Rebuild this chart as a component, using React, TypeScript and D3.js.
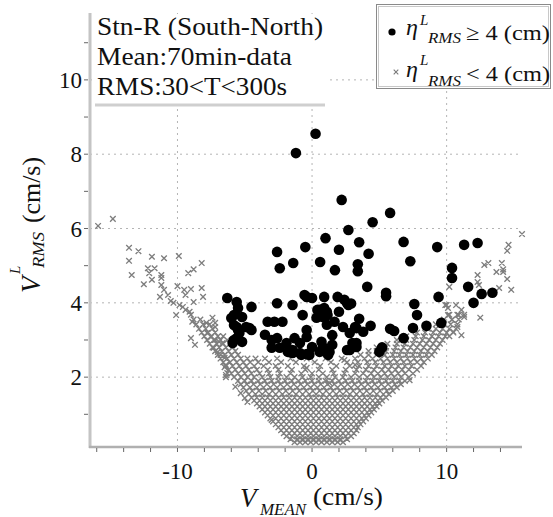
import * as d3 from 'd3';

// axis setup
const X_DOMAIN: [number, number] = [-16.5, 15.6];
const Y_DOMAIN: [number, number] = [0.12, 11.8];
const xMajor = [-10, 0, 10];
const xMinor = [-16, -14, -12, -10, -8, -6, -4, -2, 0, 2, 4, 6, 8, 10, 12, 14];
const yMajor = [2, 4, 6, 8, 10];
const yMinor = [1, 2, 3, 4, 5, 6, 7, 8, 9, 10, 11];

const titleLines = ['Stn-R (South-North)', 'Mean:70min-data', 'RMS:30<T<300s'];
const titleWidths = [226, 195, 190];

// eta_RMS >= 4 cm (black dots)
const bigDots: [number, number][] = [
  [-1.2, 8.03], [0.26, 8.55], [2.2, 6.77], [2.7, 5.96], [1.0, 5.74], [-2.6, 5.37], [-0.5, 5.5],
  [2.0, 5.43], [3.5, 5.63], [-1.4, 5.07], [-2.4, 4.93], [0.6, 5.1], [1.7, 4.88], [3.4, 5.04],
  [3.4, 4.85], [4.5, 6.17], [5.8, 6.42], [4.2, 5.32], [6.8, 5.64], [7.3, 5.12], [9.3, 5.5],
  [11.3, 5.56], [12.3, 5.61], [10.4, 4.94], [10.4, 4.67], [4.1, 4.43], [5.5, 4.27], [5.5, 4.18],
  [7.6, 3.97], [9.4, 4.16], [11.6, 4.43], [12.6, 4.24], [13.4, 4.27], [12.0, 4.0], [2.9, 3.98],
  [-0.4, 4.16], [0.0, 4.13], [0.9, 4.16], [1.9, 4.16], [2.4, 4.08], [2.7, 3.94], [-0.7, 3.67],
  [0.56, 3.81], [1.1, 3.76], [0.8, 3.62], [1.1, 3.41], [2.3, 3.35], [3.5, 3.57], [3.3, 3.32],
  [3.8, 3.22], [4.35, 3.38], [5.8, 3.3], [6.1, 3.24], [7.8, 3.67], [7.5, 3.32], [8.5, 3.38],
  [9.6, 3.46], [6.8, 3.05], [1.5, 3.13], [-0.4, 3.27], [-0.4, 3.08], [-0.9, 2.92], [0.0, 2.81],
  [-0.2, 2.6], [0.7, 2.95], [0.8, 2.81], [1.3, 2.68], [1.2, 2.6], [2.6, 2.73], [3.2, 2.87],
  [3.3, 2.81], [5.2, 2.8], [5.0, 2.68], [-0.9, 2.65], [-0.4, 2.62],
  [-6.3, 4.13], [-5.6, 4.02], [-5.5, 3.86], [-5.8, 3.67], [-4.5, 3.89], [-5.2, 3.62], [-5.8, 3.4],
  [-5.5, 3.27], [-5.6, 3.05], [-5.2, 2.95], [-4.65, 3.32], [-5.9, 2.92], [-2.6, 3.99], [-1.45, 3.94],
  [-0.56, 4.21], [-3.3, 3.49], [-2.8, 3.49], [-2.2, 3.49], [-3.5, 3.14], [-3.0, 3.0], [-2.6, 3.05],
  [-3.0, 2.79], [-2.4, 2.79], [-1.9, 2.92], [-1.45, 2.73], [-1.8, 2.68], [-1.3, 3.05], [0.4, 3.81],
  [0.9, 3.86], [1.15, 3.67], [0.33, 3.6], [1.67, 3.49], [2.0, 3.76], [2.6, 3.99], [2.8, 3.19],
  [3.2, 3.35], [0.56, 2.68], [1.15, 2.65], [1.5, 2.87], [3.3, 2.92], [-6.0, 3.59], [-5.6, 3.35],
  [-5.4, 3.19], [-5.8, 3.0], [-4.9, 3.35], [-4.5, 3.27], [-1.45, 2.65], [-0.8, 2.6], [3.0, 2.92],
  [2.8, 2.73],
];

// eta_RMS < 4 cm, dense core (one row per V_RMS level)
const grayRows: [number, number[]][] = [
  [0.25, [-1.3, -0.9, -0.5, -0.1, 0.3, 0.7, 1.1, 1.5, 1.9, 2.3]],
  [0.3, [-1.1, -0.7, -0.3, 0.1, 0.5, 0.9, 1.3, 1.7, 2.1]],
  [0.33, [-1.6, -1.1, -0.7, -0.3, 0.1, 0.5, 0.9, 1.3, 1.7, 2.1, 2.6]],
  [0.41, [-1.9, -1.5, -1.1, -0.7, -0.3, 0.1, 0.5, 0.9, 1.3, 1.7, 2.1, 2.5, 2.9]],
  [0.49, [-2.1, -1.7, -1.3, -0.9, -0.5, -0.1, 0.3, 0.7, 1.1, 1.5, 1.9, 2.3, 2.7, 3.1]],
  [0.57, [-2.3, -1.9, -1.5, -1.1, -0.7, -0.3, 0.1, 0.5, 0.9, 1.3, 1.7, 2.1, 2.5, 2.9, 3.3]],
  [0.65, [-2.5, -2.1, -1.7, -1.3, -0.9, -0.5, -0.1, 0.3, 0.7, 1.1, 1.5, 1.9, 2.3, 2.7, 3.1, 3.4]],
  [0.73, [-2.7, -2.3, -1.9, -1.5, -1.1, -0.7, -0.3, 0.1, 0.5, 0.9, 1.3, 1.7, 2.1, 2.5, 2.9, 3.3, 3.6]],
  [0.81, [-2.9, -2.5, -2.1, -1.7, -1.3, -0.9, -0.5, -0.1, 0.3, 0.7, 1.1, 1.5, 1.9, 2.3, 2.7, 3.1, 3.5, 3.8]],
  [0.89, [-3.1, -2.7, -2.3, -1.9, -1.5, -1.1, -0.7, -0.3, 0.1, 0.5, 0.9, 1.3, 1.7, 2.1, 2.5, 2.9, 3.3, 3.7, 4.0]],
  [0.97, [-3.3, -2.9, -2.5, -2.1, -1.7, -1.3, -0.9, -0.5, -0.1, 0.3, 0.7, 1.1, 1.5, 1.9, 2.3, 2.7, 3.1, 3.5, 3.9, 4.2]],
  [1.05, [-3.5, -3.1, -2.7, -2.3, -1.9, -1.5, -1.1, -0.7, -0.3, 0.1, 0.5, 0.9, 1.3, 1.7, 2.1, 2.5, 2.9, 3.3, 3.7, 4.1, 4.4]],
  [1.13, [-3.7, -3.3, -2.9, -2.5, -2.1, -1.7, -1.3, -0.9, -0.5, -0.1, 0.3, 0.7, 1.1, 1.5, 1.9, 2.3, 2.7, 3.1, 3.5, 3.9, 4.3, 4.6]],
  [1.21, [-3.9, -3.5, -3.1, -2.7, -2.3, -1.9, -1.5, -1.1, -0.7, -0.3, 0.1, 0.5, 0.9, 1.3, 1.7, 2.1, 2.5, 2.9, 3.3, 3.7, 4.1, 4.5, 4.8]],
  [1.29, [-4.1, -3.7, -3.3, -2.9, -2.5, -2.1, -1.7, -1.3, -0.9, -0.5, -0.1, 0.3, 0.7, 1.1, 1.5, 1.9, 2.3, 2.7, 3.1, 3.5, 3.9, 4.3, 4.7, 5.0]],
  [1.37, [-4.3, -3.9, -3.5, -3.1, -2.7, -2.3, -1.9, -1.5, -1.1, -0.7, -0.3, 0.1, 0.5, 0.9, 1.3, 1.7, 2.1, 2.5, 2.9, 3.3, 3.7, 4.1, 4.5, 4.9, 5.2]],
  [1.45, [-4.5, -4.1, -3.7, -3.3, -2.9, -2.5, -2.1, -1.7, -1.3, -0.9, -0.5, -0.1, 0.3, 0.7, 1.1, 1.5, 1.9, 2.3, 2.7, 3.1, 3.5, 3.9, 4.3, 4.7, 5.1, 5.5]],
  [1.54, [-4.7, -4.2, -3.7, -3.2, -2.7, -2.2, -1.7, -1.2, -0.7, -0.2, 0.3, 0.8, 1.3, 1.8, 2.3, 2.8, 3.3, 3.8, 4.3, 4.8, 5.3, 5.7]],
  [1.63, [-4.9, -4.45, -3.95, -3.45, -2.95, -2.45, -1.95, -1.45, -0.95, -0.45, 0.05, 0.55, 1.05, 1.55, 2.05, 2.55, 3.05, 3.55, 4.05, 4.55, 5.05, 5.55, 6.0]],
  [1.72, [-5.1, -4.6, -4.1, -3.6, -3.1, -2.6, -2.1, -1.6, -1.1, -0.6, -0.1, 0.4, 0.9, 1.4, 1.9, 2.4, 2.9, 3.4, 3.9, 4.4, 4.9, 5.4, 5.9, 6.3]],
  [1.81, [-5.3, -4.85, -4.35, -3.85, -3.35, -2.85, -2.35, -1.85, -1.35, -0.85, -0.35, 0.15, 0.65, 1.15, 1.65, 2.15, 2.65, 3.15, 3.65, 4.15, 4.65, 5.15, 5.65, 6.15, 6.6]],
  [1.9, [-5.5, -5.0, -4.5, -4.0, -3.5, -3.0, -2.5, -2.0, -1.5, -1.0, -0.5, 0, 0.5, 1.0, 1.5, 2.0, 2.5, 3.0, 3.5, 4.0, 4.5, 5.0, 5.5, 6.0, 6.5, 6.9]],
  [2.0, [-5.8, -5.3, -4.8, -4.3, -3.7, -3.1, -2.5, -1.9, -1.3, -0.7, -0.1, 0.5, 1.1, 1.7, 2.3, 2.9, 3.5, 4.1, 4.6, 5.1, 5.6, 6.1, 6.6, 7.2]],
  [2.1, [-6.0, -5.5, -5.0, -4.5, -3.9, -3.2, -2.4, -1.6, -0.8, 0, 0.8, 1.6, 2.4, 3.2, 3.8, 4.4, 4.9, 5.4, 5.9, 6.4, 6.9, 7.5]],
  [2.2, [-6.2, -5.7, -5.2, -4.7, -4.1, -3.3, -2.5, -1.5, -0.5, 0.5, 1.5, 2.5, 3.3, 4.0, 4.6, 5.2, 5.7, 6.2, 6.7, 7.2, 7.8]],
  [2.3, [-6.4, -5.9, -5.4, -4.9, -4.3, -3.6, -2.7, -1.8, -0.6, 0.6, 1.8, 2.8, 3.5, 4.2, 4.8, 5.4, 5.9, 6.4, 6.9, 7.4, 8.1]],
  [2.4, [-6.6, -6.1, -5.6, -5.1, -4.6, -4.0, -3.2, -2.3, -1.2, 0.2, 1.4, 2.6, 3.4, 4.1, 4.7, 5.3, 5.8, 6.3, 6.8, 7.3, 7.8, 8.3]],
  [2.5, [-6.8, -6.3, -5.8, -5.3, -4.8, -4.2, -3.5, -2.6, -1.6, -0.4, 1.0, 2.2, 3.2, 3.9, 4.5, 5.1, 5.6, 6.1, 6.6, 7.1, 7.6, 8.1, 8.6]],
  [2.6, [-7.0, -6.5, -6.0, -5.5, 3.6, 4.2, 4.8, 5.4, 6.0, 6.5, 7.0, 7.5, 8.0, 8.5, 8.9]],
  [2.7, [-7.2, -6.7, -6.2, -5.7, 4.2, 4.8, 5.5, 6.1, 6.6, 7.1, 7.6, 8.1, 8.6, 9.1]],
  [2.8, [-7.4, -6.9, -6.4, -5.9, 4.8, 5.5, 6.2, 6.8, 7.3, 7.8, 8.3, 8.8, 9.3]],
  [2.9, [-7.6, -7.1, -6.6, -6.1, 5.6, 6.3, 6.9, 7.5, 8.0, 8.5, 9.0, 9.5]],
  [3.0, [-7.8, -7.3, -6.8, -6.3, 6.3, 7.0, 7.6, 8.2, 8.7, 9.2, 9.7]],
  [3.1, [-8.0, -7.5, -7.0, -6.6, 7.0, 7.7, 8.3, 8.9, 9.4, 9.9, 10.2]],
  [3.2, [-8.2, -7.7, -7.2, 7.8, 8.4, 9.0, 9.5, 10.0, 10.5]],
  [3.3, [-8.4, -7.9, -7.4, 8.6, 9.2, 9.7, 10.2, 10.7]],
  [3.42, [-8.6, -8.1, -7.6, 9.2, 9.8, 10.3, 10.8]],
  [3.55, [-8.8, -8.3, 9.8, 10.4, 10.9]],
  [3.68, [-9.0, 10.2, 10.8, 11.3]],
];

// eta_RMS < 4 cm, scattered crosses in the wings
const grayWings: [number, number][] = [
  [-15.9, 6.07], [-14.8, 6.26], [-13.6, 5.48], [-12.9, 5.39], [-13.6, 5.13], [-11.9, 5.24],
  [-11.0, 5.2], [-13.4, 4.75], [-12.2, 4.93], [-11.7, 4.93], [-12.1, 4.8], [-11.9, 4.62],
  [-12.5, 4.5], [-11.2, 4.75], [-11.2, 4.67], [-9.9, 5.26], [-9.2, 4.8], [-8.8, 4.9], [-8.2, 5.07],
  [-10.0, 4.45], [-9.5, 4.35], [-9.0, 4.37], [-8.2, 4.4], [-11.2, 4.48], [-11.0, 4.35],
  [-10.7, 4.21], [-11.3, 4.16], [-9.4, 4.21], [-8.1, 4.16], [-10.5, 4.05], [-10.3, 4.0],
  [-9.85, 3.94], [-9.6, 3.89], [-9.4, 3.81], [-10.1, 3.67], [-9.1, 3.76], [-8.9, 3.49],
  [-8.8, 4.02], [-9.0, 3.05], [-8.7, 2.87], [-7.85, 3.46], [-7.4, 3.6], [-7.2, 3.46], [-7.2, 3.35],
  [-7.8, 3.19], [-7.5, 3.08], [-7.2, 3.0], [-6.9, 2.95], [-6.65, 2.92], [-7.3, 2.79], [-7.0, 2.68],
  [-6.8, 2.6], [-6.5, 2.52], [-6.4, 2.33], [-6.3, 2.11], [-6.4, 2.0], [-5.7, 1.74], [-5.3, 1.57],
  [-5.0, 1.44], [-4.8, 1.33], [-6.5, 2.27], [-6.4, 2.06], [-3.0, 0.85],
  [15.6, 5.85], [14.6, 5.56], [14.5, 5.4], [12.8, 5.02], [13.1, 5.07], [14.1, 5.07], [14.2, 4.9],
  [13.7, 4.83], [14.2, 4.83], [14.5, 4.64], [14.8, 4.35], [13.9, 4.4], [12.3, 4.75], [12.3, 4.56],
  [12.4, 4.48], [10.2, 4.43], [10.0, 3.94], [10.7, 3.94], [12.5, 3.6], [11.1, 3.13], [7.25, 1.92],
  [9.9, 3.94], [10.1, 3.86], [11.1, 3.81], [10.9, 3.67], [11.3, 3.62], [10.1, 3.67], [10.4, 3.54],
  [10.8, 3.35], [10.5, 3.22], [10.0, 3.19],
  [1.1, 2.54], [2.4, 2.46], [3.2, 2.33], [-0.4, 2.25], [0.8, 2.1], [2.4, 2.1], [1.3, 1.84],
];

const FONT = "'Liberation Serif', 'DejaVu Serif', serif";

export default function App() {
  const x = d3.scaleLinear().domain(X_DOMAIN).range([90, 522]);
  const y = d3.scaleLinear().domain(Y_DOMAIN).range([447, 13]);
  const [x0, x1] = x.range();
  const [yb, yt] = y.range();

  const grayPts: [number, number][] = grayRows
    .flatMap(([v, xs]) => xs.map((u) => [u, v] as [number, number]))
    .concat(grayWings);

  const cross = (cx: number, cy: number, s: number) =>
    `M${cx - s},${cy - s}L${cx + s},${cy + s}M${cx - s},${cy + s}L${cx + s},${cy - s}`;

  return (
    <svg width={553} height={517} style={{ position: 'absolute', left: 0, top: 0, background: '#fff' }}
      fontFamily={FONT}>
      {/* grid */}
      <g stroke="#b4b4b4" strokeWidth={1} strokeDasharray="2,4">
        {xMajor.map((t) => <line key={'gx' + t} x1={x(t)} x2={x(t)} y1={yt} y2={yb} />)}
        {yMajor.map((t) => <line key={'gy' + t} x1={x0} x2={x1} y1={y(t)} y2={y(t)} />)}
      </g>

      {/* small data: crosses */}
      <path d={grayPts.map(([u, v]) => cross(x(u), y(v), 2.8)).join('')}
        stroke="#7e7e7e" strokeWidth={1.35} fill="none" />

      {/* large data: dots */}
      <g fill="#000">
        {bigDots.map(([u, v], i) => <circle key={i} cx={x(u)} cy={y(v)} r={5.3} />)}
      </g>

      {/* axes */}
      <line x1={x0} x2={x0} y1={yt} y2={yb + 1} stroke="#c4c4c4" strokeWidth={3} />
      <line x1={x0 - 1} x2={x1} y1={yb} y2={yb} stroke="#b0b0b0" strokeWidth={2.5} />
      <g stroke="#666" strokeWidth={1}>
        {xMinor.map((t) => <line key={'tx' + t} x1={x(t)} x2={x(t)} y1={yb + 1} y2={yb + 5} />)}
        {yMinor.map((t) => <line key={'ty' + t} x1={x0 - 2} x2={x0 - 6} y1={y(t)} y2={y(t)} />)}
      </g>
      <g fontSize={23} fill="#111">
        {xMajor.map((t) => (
          <text key={'lx' + t} x={x(t)} y={479} textAnchor="middle">{t}</text>
        ))}
        {yMajor.map((t) => (
          <text key={'ly' + t} x={82} y={y(t) + 8} textAnchor="end">{t}</text>
        ))}
      </g>

      {/* x title */}
      <g fill="#111">
        <text x={240} y={507} fontSize={27} fontStyle="italic">V</text>
        <text x={260} y={515} fontSize={16} fontStyle="italic" textLength={46} lengthAdjust="spacingAndGlyphs">MEAN</text>
        <text x={313} y={505} fontSize={25} textLength={70} lengthAdjust="spacingAndGlyphs">(cm/s)</text>
      </g>

      {/* y title */}
      <g fill="#111" transform="translate(40,293) rotate(-90)">
        <text x={0} y={0} fontSize={27} fontStyle="italic">V</text>
        <text x={19} y={-20} fontSize={15} fontStyle="italic">L</text>
        <text x={25} y={4} fontSize={16} fontStyle="italic" textLength={36} lengthAdjust="spacingAndGlyphs">RMS</text>
        <text x={70} y={0} fontSize={25} textLength={66} lengthAdjust="spacingAndGlyphs">(cm/s)</text>
      </g>

      {/* title box */}
      <rect x={92} y={14} width={234} height={90} fill="#fff" />
      <line x1={95} x2={325} y1={105} y2={105} stroke="#cfcfcf" strokeWidth={3} />
      <g fill="#111" fontSize={25}>
        {titleLines.map((s, i) => (
          <text key={i} x={97} y={35 + i * 30} textLength={titleWidths[i]} lengthAdjust="spacingAndGlyphs">{s}</text>
        ))}
      </g>

      {/* legend */}
      <rect x={376.5} y={4.5} width={174} height={84} fill="#fff" stroke="#8a8a8a" strokeWidth={1} />
      <rect x={378.5} y={6.5} width={170} height={80} fill="none" stroke="#c8c8c8" strokeWidth={1} />
      <circle cx={392} cy={32} r={3.6} fill="#000" />
      <path d={cross(396, 72, 2.3)} stroke="#7a7a7a" strokeWidth={1.1} />
      <g fill="#111">
        <text x={406} y={35} fontSize={24} fontStyle="italic">η</text>
        <text x={420} y={25} fontSize={15} fontStyle="italic">L</text>
        <text x={428} y={43} fontSize={15} fontStyle="italic" textLength={33} lengthAdjust="spacingAndGlyphs">RMS</text>
        <text x={466} y={40} fontSize={22} textLength={84} lengthAdjust="spacingAndGlyphs">≥ 4 (cm)</text>
        <text x={406} y={77} fontSize={24} fontStyle="italic">η</text>
        <text x={420} y={65} fontSize={15} fontStyle="italic">L</text>
        <text x={428} y={86} fontSize={15} fontStyle="italic" textLength={33} lengthAdjust="spacingAndGlyphs">RMS</text>
        <text x={466} y={81} fontSize={22} textLength={84} lengthAdjust="spacingAndGlyphs">&lt; 4 (cm)</text>
      </g>
    </svg>
  );
}
